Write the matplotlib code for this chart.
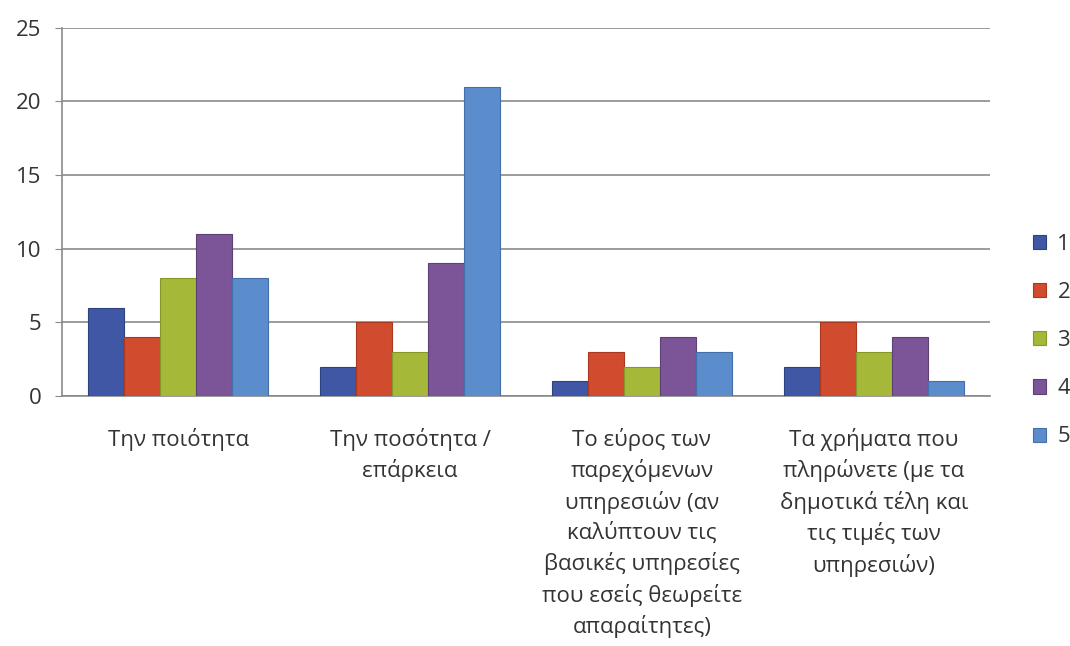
import numpy as np
import matplotlib.pyplot as plt

# categories and values
categories = [
    "Την ποιότητα",
    "Την ποσότητα /\nεπάρκεια",
    "Το εύρος των\nπαρεχόμενων\nυπηρεσιών (αν\nκαλύπτουν τις\nβασικές υπηρεσίες\nπου εσείς θεωρείτε\nαπαραίτητες)",
    "Τα χρήματα που\nπληρώνετε (με τα\nδημοτικά τέλη και\nτις τιμές των\nυπηρεσιών)",
]
series_names = ["1", "2", "3", "4", "5"]
s1 = [6, 2, 1, 2]
s2 = [4, 5, 3, 5]
s3 = [8, 3, 2, 3]
s4 = [11, 9, 4, 4]
s5 = [8, 21, 3, 1]
series = [s1, s2, s3, s4, s5]

colors = ["#3F57A4", "#D14B2F", "#A6B838", "#7C5598", "#5B8CCB"]
edges = ["#2E4280", "#A8381F", "#879628", "#5E3F76", "#446FA8"]

plt.rcParams['font.family'] = ['Open Sans', 'DejaVu Sans']

fig = plt.figure(figsize=(10.7, 6.46), dpi=100)
ax = fig.add_axes([0.058, 0.387, 0.867, 0.57])

x = np.arange(len(categories))
w = 0.155
for i, vals in enumerate(series):
    ax.bar(x + (i - 2) * w, vals, width=w, color=colors[i], edgecolor=edges[i],
           linewidth=0.8, label=series_names[i], zorder=3)

ax.set_xlim(-0.5, len(categories) - 0.5)
ax.set_ylim(0, 25)
ax.set_yticks(np.arange(0, 26, 5))
ax.yaxis.grid(True, color="#8a8a8a", linewidth=1.2, zorder=0)
ax.set_xticks(x)
ax.set_xticklabels(categories, fontsize=16, color="#333333", linespacing=1.47)
ax.tick_params(axis="x", length=0, pad=23)
ax.tick_params(axis="y", length=5, color="#8a8a8a", labelsize=16, pad=10, labelcolor="#333333")
for s in ["top", "right"]:
    ax.spines[s].set_visible(False)
for s in ["left", "bottom"]:
    ax.spines[s].set_color("#8a8a8a")
    ax.spines[s].set_linewidth(1.2)

# legend sits to the right, lower half
leg = ax.legend(loc="center left", bbox_to_anchor=(1.025, 0.15), frameon=False,
                fontsize=16, handlelength=0.6, handleheight=0.6, handletextpad=0.5,
                labelspacing=1.22, labelcolor="#333333")

fig.savefig("out.png", dpi=100)
